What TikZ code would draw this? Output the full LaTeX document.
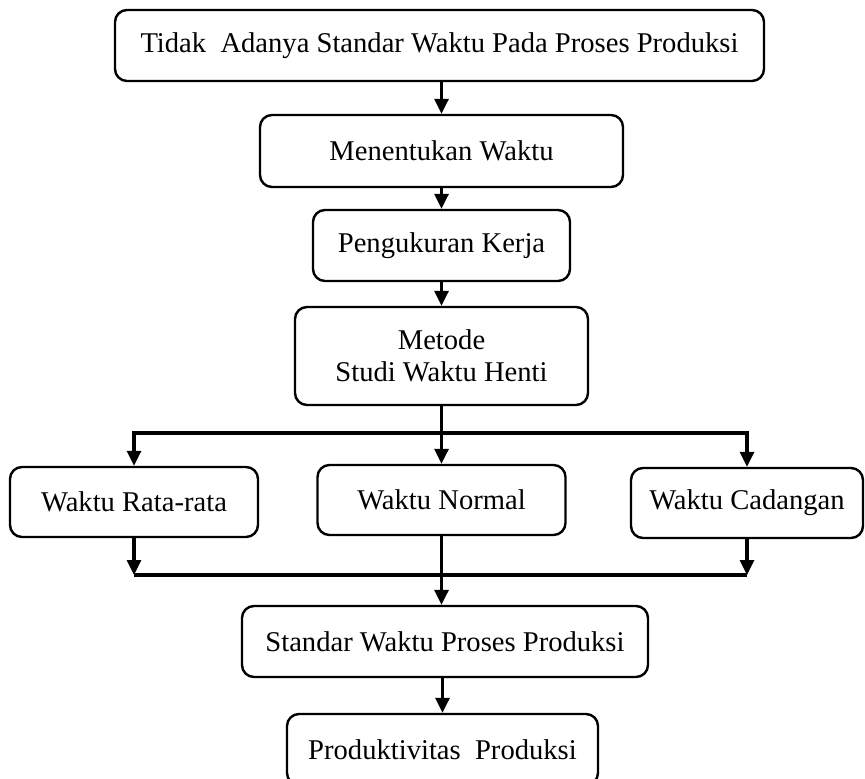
\documentclass[tikz,border=0pt]{standalone}
\usepackage{fontspec}
\setmainfont{Liberation Serif}
\usetikzlibrary{arrows.meta, positioning}

\begin{document}
\begin{tikzpicture}[
        x=0.5pt, y=-0.5pt, >={Triangle[length=7.5pt, width=7pt]},
        box/.style={draw, line width=1.2pt, rounded corners=6pt, align=center,
            inner sep=0pt, font=\fontsize{14.3}{16}\selectfont},
        e/.style={->, line width=1.6pt},
        ln/.style={line width=1.6pt}
    ]
        \useasboundingbox (0,0) rectangle (865,779);

        % 主干
        \node[box, minimum width=324.5pt, minimum height=35.5pt] (b1) at (439.5,45.5) {Tidak\ \ Adanya Standar Waktu Pada Proses Produksi};
        \node[box, minimum width=181.5pt, minimum height=36pt] (b2) at (441.5,151) {Menentukan Waktu};
        \node[box, minimum width=128.5pt, minimum height=35.5pt] (b3) at (441.5,245.5) {Pengukuran Kerja};
        \node[box, minimum width=146.5pt, minimum height=49pt] (b4) at (441.5,356) {Metode\\Studi Waktu Henti};

        % 三个分支
        \node[box, minimum width=124pt, minimum height=35pt] (b5) at (134,502) {Waktu Rata-rata};
        \node[box, minimum width=124pt, minimum height=35pt] (b6) at (441.5,500) {Waktu Normal};
        \node[box, minimum width=116pt, minimum height=35pt] (b7) at (747,503) {Waktu Cadangan};

        \node[box, minimum width=203pt, minimum height=35.5pt] (b8) at (445,641.5) {Standar Waktu Proses Produksi};
        \node[box, minimum width=155.5pt, minimum height=35.5pt] (b9) at (442.5,749.5) {Produktivitas\ \ Produksi};

        \coordinate (fork) at (441.5,433);
        \coordinate (join) at (441.5,575);

        \draw[e] (b2.north |- b1.south) -- (b2.north);
        \draw[e] (b3.north |- b2.south) -- (b3.north);
        \draw[e] (b4.north |- b3.south) -- (b4.north);

        % 分叉
        \draw[ln] (b4.south) -- (fork);
        \draw[e] (fork) -| (b5.north);
        \draw[e] (fork) -| (b7.north);
        \draw[e] (fork) -- (b6.north);

        % 汇合
        \draw[e] (b5.south) -- (b5.south |- join);
        \draw[e] (b7.south) -- (b7.south |- join);
        \draw[ln] (b5.south |- join) -- (b7.south |- join);
        \draw[e] (b6.south) -- (b6.south |- b8.north);

        \draw[e] (b9.north |- b8.south) -- (b9.north);
    \end{tikzpicture}
\end{document}
